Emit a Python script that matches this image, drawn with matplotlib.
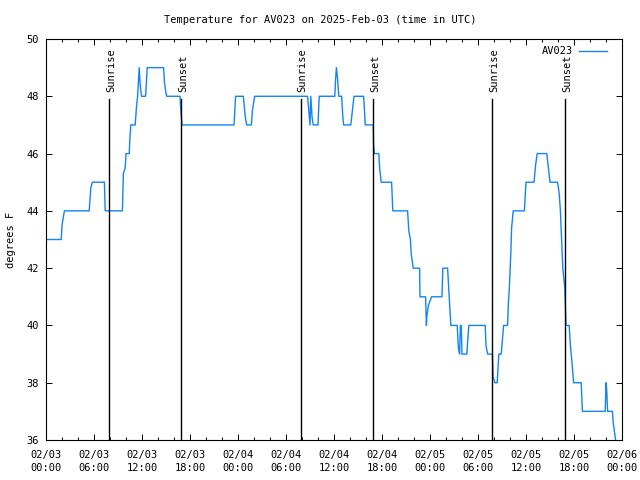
import pandas as pd
import matplotlib
matplotlib.use('Agg')
import matplotlib.pyplot as plt
import matplotlib.dates as mdates

# hours after 2025-02-03 00:00 UTC and temperature (deg F)
hours = [0.1, 1.9, 2.0, 2.3,
         5.4, 5.5, 5.6, 5.8, 7.3, 7.4,
         9.55, 9.67, 9.9, 10.0, 10.4, 10.45, 10.5, 10.6,
         11.15, 11.3, 11.45, 11.55, 11.65, 11.75, 11.85, 11.95,
         12.45, 12.65, 14.7, 14.8, 15.0, 15.1, 16.75, 16.85, 17.0,
         23.5, 23.7, 24.67, 24.9, 25.08, 25.67, 25.8, 26.08,
         32.7, 32.85, 33.0, 33.1, 33.25, 33.4, 34.0, 34.15,
         36.1, 36.2, 36.3, 36.45, 36.6, 36.95, 37.1, 37.2,
         38.1, 38.3, 38.5, 39.7, 39.85, 39.9,
         40.9, 40.95, 41.05, 41.6, 41.7, 41.9, 43.2, 43.35,
         45.2, 45.35, 45.55, 45.65, 45.9, 46.7, 46.75,
         47.45, 47.55, 47.6, 47.8, 48.2,
         49.5, 49.6, 50.2, 50.3, 50.6,
         51.4, 51.55, 51.7, 51.8, 51.9, 52.0, 52.6, 52.85,
         54.9, 55.0, 55.2, 55.8, 55.9, 56.1, 56.4, 56.6, 56.9, 57.2,
         57.7, 57.8, 57.9, 58.1, 58.2, 58.4,
         59.8, 60.0, 61.0, 61.2, 61.4, 62.6, 62.8, 63.0,
         63.95, 64.15, 64.3, 64.45, 64.6, 64.85, 64.95, 65.0,
         65.4, 65.55, 65.75, 65.95, 66.9, 67.05,
         69.9, 70.0, 70.1, 70.2, 70.8, 70.9, 71.2]
temps = [43, 43, 43.5, 44,
         44, 44.4, 44.8, 45, 45, 44,
         44, 45.3, 45.5, 46, 46, 46.3, 46.6, 47,
         47, 47.6, 48, 48.5, 49, 48.5, 48.2, 48,
         48, 49, 49, 48.5, 48.1, 48, 48, 47.5, 47,
         47, 48, 48, 47.3, 47, 47, 47.5, 48,
         48, 47.5, 47, 48, 47.3, 47, 47, 48,
         48, 48.6, 49, 48.6, 48, 48, 47.3, 47,
         47, 47.5, 48, 48, 47.3, 47,
         47, 46.3, 46, 46, 45.5, 45, 45, 44,
         44, 43.3, 43, 42.5, 42, 42, 41,
         41, 40, 40.3, 40.7, 41,
         41, 42, 42, 41.5, 40,
         40, 39.2, 39, 40, 40, 39, 39, 40,
         40, 39.3, 39, 39, 38.2, 38, 38, 39, 39, 40,
         40, 40.8, 41.2, 42.5, 43.4, 44,
         44, 45, 45, 45.6, 46, 46, 45.5, 45,
         45, 44.6, 44, 43, 42, 41.3, 40.5, 40,
         40, 39.3, 38.7, 38, 38, 37,
         37, 38, 37.7, 37, 37, 36.6, 36]

sun_times = ['2025-02-03 07:55', '2025-02-03 16:55',
             '2025-02-04 07:53', '2025-02-04 16:55',
             '2025-02-05 07:48', '2025-02-05 16:55']
sun_labels = ['Sunrise', 'Sunset', 'Sunrise', 'Sunset', 'Sunrise', 'Sunset']

base = pd.Timestamp('2025-02-03 00:00')
times = base + pd.to_timedelta(hours, unit='h')

plt.rcParams['font.family'] = 'DejaVu Sans Mono'
plt.rcParams['font.size'] = 7.5

fig = plt.figure(figsize=(6.4, 4.8), dpi=100)
ax = fig.add_axes([46/640, 40/480, 576/640, 401/480])

ax.plot(times, temps, color='#1384f5', lw=1.0, label='AV023')

for t, lab in zip(sun_times, sun_labels):
    t = pd.Timestamp(t)
    ax.plot([t, t], [36, 47.9], color='black', lw=1.0)
    ax.text(t + pd.Timedelta(minutes=12), 48.15, lab, rotation=90,
            ha='center', va='bottom')

ax.set_xlim(base, base + pd.Timedelta(hours=72))
ax.set_ylim(36, 50)
ax.set_yticks(range(36, 51, 2))
ax.xaxis.set_major_locator(mdates.HourLocator(byhour=[0, 6, 12, 18]))
ax.xaxis.set_minor_locator(mdates.HourLocator(interval=2))
ax.xaxis.set_major_formatter(mdates.DateFormatter('%m/%d\n%H:%M'))
for lbl in ax.get_xticklabels():
    lbl.set_linespacing(1.35)

ax.tick_params(which='both', direction='in', top=True, right=True, width=0.7)
ax.tick_params(which='major', length=4.5)
ax.tick_params(which='minor', length=2.5)
ax.tick_params(axis='x', which='major', pad=7.5)
ax.tick_params(axis='y', which='major', pad=5)
for s in ax.spines.values():
    s.set_linewidth(0.8)

ax.set_ylabel('degrees F')
ax.yaxis.set_label_coords(-30/576, 0.5)
fig.text(0.5, 1 - 20/480, 'Temperature for AV023 on 2025-Feb-03 (time in UTC)',
         ha='center', va='center')

leg = ax.legend(loc='upper right', frameon=False, handlelength=2.7,
                markerfirst=False, borderaxespad=0.3, handletextpad=0.5,
                bbox_to_anchor=(1 - 8/576, 1))

fig.savefig('out.png', dpi=100)
